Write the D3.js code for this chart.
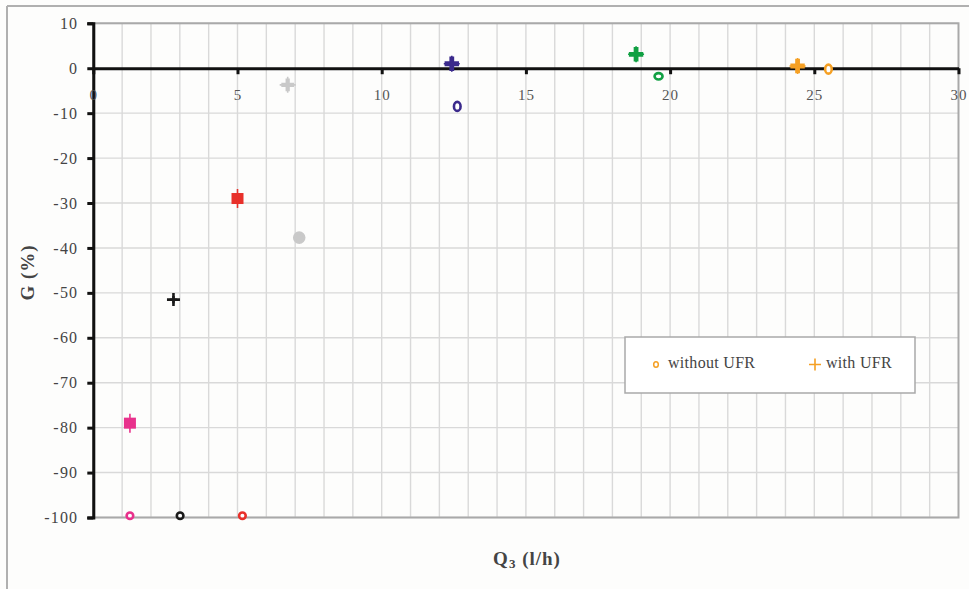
<!DOCTYPE html>
<html>
<head>
<meta charset="utf-8">
<script src="https://cdn.jsdelivr.net/npm/d3@7"></script>
<style>
  html, body { margin: 0; padding: 0; background: #fdfdfc; }
  svg { display: block; }
</style>
</head>
<body>
<svg id="chart" width="969" height="589"></svg>
<script>
// Gain G (%) versus flow rate Q3 (l/h), with and without UFR
const seriesNames  = ["pink", "black", "red", "grey", "purple", "green", "orange"];
const withoutQ     = [1.27, 3.01, 5.17, 7.14, 12.62, 19.6, 25.49];
const withoutG     = [-99.6, -99.6, -99.6, -37.7, -8.5, -1.8, -0.2];
const withQ        = [1.27, 2.78, 5.0, 6.74, 12.43, 18.82, 24.42];
const withG        = [-79.0, -51.5, -29.0, -3.7, 1.0, 3.1, 0.5];
const xTicks       = [0, 5, 10, 15, 20, 25, 30];
const yTicks       = [10, 0, -10, -20, -30, -40, -50, -60, -70, -80, -90, -100];
const legendLabels = ["without UFR", "with UFR"];

const colors = {
  pink: "#e8318c", black: "#1a1a1a", red: "#e8302a", grey: "#c9c9c9",
  purple: "#3b2a8c", green: "#11a043", orange: "#f5a024"
};

const svg = d3.select("#chart");
const W = 969, H = 589;
const pLeft = 93.3, pRight = 958.5, pTop = 23.3, pBottom = 517.5;

const x = d3.scaleLinear().domain([0, 30]).range([pLeft, pRight]);
const y = d3.scaleLinear().domain([10, -100]).range([pTop, pBottom]);

const serif = "'Liberation Serif', 'Times New Roman', serif";

// outer frame (top and left edges)
svg.append("line").attr("x1", 7).attr("x2", W).attr("y1", 6).attr("y2", 6)
  .attr("stroke", "#b0b0b0").attr("stroke-width", 2);
svg.append("line").attr("x1", 7).attr("x2", 7).attr("y1", 6).attr("y2", H)
  .attr("stroke", "#b0b0b0").attr("stroke-width", 2);

// grid: vertical every unit, horizontal every 10
const g = svg.append("g");
g.selectAll("line.vg").data(d3.range(1, 30)).join("line")
  .attr("x1", d => x(d)).attr("x2", d => x(d))
  .attr("y1", pTop).attr("y2", pBottom)
  .attr("stroke", "#d9d9d9").attr("stroke-width", 1.4);
g.selectAll("line.hg").data(yTicks.filter(v => v !== 0)).join("line")
  .attr("x1", pLeft).attr("x2", pRight)
  .attr("y1", d => y(d)).attr("y2", d => y(d))
  .attr("stroke", "#d9d9d9").attr("stroke-width", 1.4);

// plot area border
svg.append("rect").attr("x", pLeft).attr("y", pTop)
  .attr("width", pRight - pLeft).attr("height", pBottom - pTop)
  .attr("fill", "none").attr("stroke", "#a9a9a9").attr("stroke-width", 2);

// y axis on the left, at Q3 = 0
const yAxis = d3.axisLeft(y).tickValues(yTicks).tickSize(6).tickPadding(9)
  .tickFormat(d => String(d));
const ya = svg.append("g").attr("transform", `translate(${x(0)},0)`).call(yAxis);
ya.select(".domain").attr("stroke", "#111").attr("stroke-width", 3);
ya.selectAll(".tick line").attr("stroke", "#111").attr("stroke-width", 3);
ya.selectAll(".tick text").attr("font-family", serif).attr("font-size", 16)
  .attr("letter-spacing", 1.2).attr("fill", "#444");

// x axis through G = 0
const xAxis = d3.axisBottom(x).tickValues(xTicks).tickSize(6).tickPadding(15)
  .tickSizeOuter(0).tickFormat(d => String(d));
const xa = svg.append("g").attr("transform", `translate(0,${y(0)})`).call(xAxis);
xa.select(".domain").attr("stroke", "#111").attr("stroke-width", 3);
xa.selectAll(".tick line").attr("stroke", "#111").attr("stroke-width", 3);
xa.selectAll(".tick text").attr("font-family", serif).attr("font-size", 15)
  .attr("letter-spacing", 1).attr("fill", "#555");

// axis titles
svg.append("text")
  .attr("transform", `translate(34,${(pTop + pBottom) / 2 + 2}) rotate(-90)`)
  .attr("text-anchor", "middle").attr("font-family", serif)
  .attr("font-weight", "bold").attr("font-size", 19).attr("letter-spacing", 1)
  .attr("fill", "#444")
  .text("G (%)");
const xt = svg.append("text").attr("x", 527).attr("y", 565)
  .attr("text-anchor", "middle").attr("font-family", serif)
  .attr("font-weight", "bold").attr("font-size", 19).attr("letter-spacing", 1)
  .attr("fill", "#444");
xt.append("tspan").text("Q");
xt.append("tspan").attr("font-size", 13).attr("dy", 3).text("3");
xt.append("tspan").attr("dy", -3).text(" (l/h)");

// markers
const crossPath = d3.symbol().type(d3.symbolCross);
const marks = svg.append("g");
const stacked = s => s === "pink" || s === "red";

// with UFR: filled crosses
const withData = seriesNames.map((s, i) => ({ s, q: withQ[i], g: withG[i] }));
marks.selectAll("path.with").data(withData.filter(d => !stacked(d.s))).join("path")
  .attr("transform", d => `translate(${x(d.q)},${y(d.g)})`)
  .attr("d", d => crossPath.size(d.s === "black" ? 30 : (d.s === "grey" ? 90 : 115))())
  .attr("fill", d => colors[d.s]);
// square bodies with a vertical whisker for the stacked pink and red points
marks.selectAll("rect.body").data(withData.filter(d => stacked(d.s))).join("rect")
  .attr("x", d => x(d.q) - 6).attr("y", d => y(d.g) - 5.5)
  .attr("width", 12).attr("height", 11).attr("fill", d => colors[d.s]);
// thin plus strokes
marks.selectAll("path.plus").data(withData).join("path")
  .attr("d", d => {
    const cx = x(d.q), cy = y(d.g), r = d.s === "black" ? 6.5 : 8;
    const v = stacked(d.s) ? 9.5 : r;
    const h = stacked(d.s) ? 0 : r;
    return `M${cx - h},${cy}H${cx + h}M${cx},${cy - v}V${cy + v}`;
  })
  .attr("stroke", d => colors[d.s]).attr("stroke-width", d => d.s === "black" ? 2.6 : 1.6)
  .attr("fill", "none");

// without UFR: open circles
const withoutData = seriesNames.map((s, i) => ({ s, q: withoutQ[i], g: withoutG[i] }));
marks.selectAll("ellipse.without").data(withoutData).join("ellipse")
  .attr("cx", d => x(d.q)).attr("cy", d => y(d.g))
  .attr("rx", d => d.s === "grey" ? 5 : (d.s === "green" ? 4 : 3.3))
  .attr("ry", d => d.s === "grey" ? 5 : (d.s === "purple" || d.s === "orange" ? 4.5 : 3.2))
  .attr("fill", d => d.s === "grey" ? colors.grey : "#fff")
  .attr("stroke", d => colors[d.s]).attr("stroke-width", 2.6);

// legend
const lg = svg.append("g");
lg.append("rect").attr("x", 625).attr("y", 337).attr("width", 290).attr("height", 56)
  .attr("fill", "#fff").attr("stroke", "#a9a9a9").attr("stroke-width", 1.5);
lg.append("ellipse").attr("cx", 656).attr("cy", 364.5).attr("rx", 2.3).attr("ry", 2.8)
  .attr("fill", "none").attr("stroke", colors.orange).attr("stroke-width", 1.5);
lg.append("text").attr("x", 668).attr("y", 368).attr("font-family", serif)
  .attr("font-size", 16).attr("letter-spacing", 0.3).attr("fill", "#444").text(legendLabels[0]);
lg.append("path").attr("d", "M809,364.5H821M815,358.5V370.5")
  .attr("stroke", colors.orange).attr("stroke-width", 1.6);
lg.append("text").attr("x", 826).attr("y", 368).attr("font-family", serif)
  .attr("font-size", 16).attr("letter-spacing", 0.3).attr("fill", "#444").text(legendLabels[1]);
</script>
</body>
</html>
